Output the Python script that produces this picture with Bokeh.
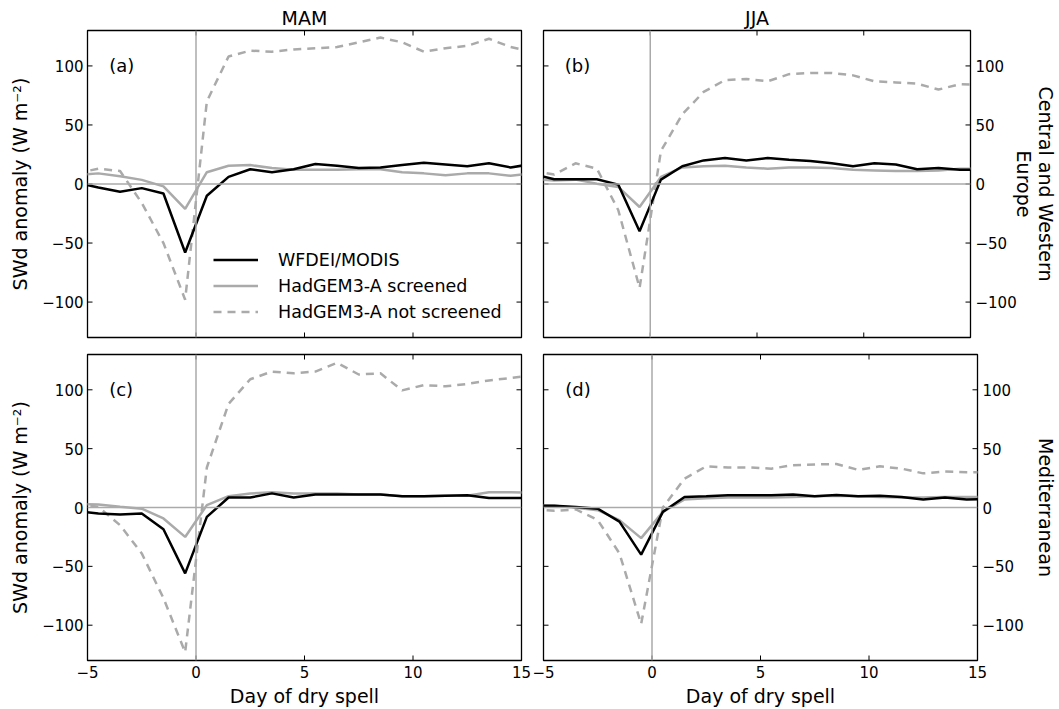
import math
from bokeh.plotting import figure
from bokeh.layouts import column, row
from bokeh.models import (Range1d, LinearAxis, FixedTicker, Span,
                          Legend, LegendItem)
from bokeh.core.properties import value
from bokeh.embed import file_html
from bokeh.resources import INLINE

# ---------------- data ----------------
days = [-5.5, -4.5, -3.5, -2.5, -1.5, -0.5, 0.5, 1.5, 2.5, 3.5, 4.5,
        5.5, 6.5, 7.5, 8.5, 9.5, 10.5, 11.5, 12.5, 13.5, 14.5, 15.5]

# (a) MAM, Central and Western Europe
obs_a = [1, -3, -6.5, -3.5, -8, -58, -10, 6, 12.5, 10, 12.5,
         17, 15.5, 13.5, 14, 16, 18, 16.5, 15, 17.5, 14, 17]
scr_a = [7.5, 9, 6.5, 3.5, -2, -21, 10, 15.5, 16, 13.5, 12,
         12, 12, 12.5, 12.5, 10, 9, 7.5, 9, 9, 7, 9]
nos_a = [9, 13, 11, -16, -50, -98, 70, 108, 113, 112, 114,
         115, 116, 120, 124, 120, 112, 115, 117, 123, 116, 112]

# (b) JJA, Central and Western Europe
obs_b = [8.5, 4, 4, 4, -0.5, -40, 3.7, 15, 20, 22, 20,
         22, 20.5, 19.5, 17.5, 15, 17.5, 16.5, 12.5, 13.5, 12, 12]
scr_b = [4, 3, 3.7, 0.3, -2.5, -19.5, 6, 14, 15, 15.5, 14,
         13, 14, 14, 13.5, 12, 11.5, 11, 11, 11.5, 13, 13]
nos_b = [11, 8, 17.5, 13, -22, -88, 28, 59, 78, 88, 89,
         87, 93, 94, 94, 92, 87, 86, 85, 80, 84.5, 84]

# (c) MAM, Mediterranean
obs_c = [-3, -5, -6, -5, -18.5, -56, -8, 8.5, 8.5, 12, 8.5,
         11, 11, 11, 11, 9.5, 9.5, 10, 10.5, 8, 8, 8]
scr_c = [3, 2.5, 0.6, -1, -9.3, -25, 2, 9.6, 11.8, 13, 11.8,
         11.8, 11.8, 11, 11, 9.6, 9.6, 10, 10, 13, 13, 12.5]
nos_c = [4, 0.5, -15, -39, -77, -123, 34, 88, 109, 115.5, 114,
         115.5, 123, 113, 114, 99.5, 104, 103, 105, 108, 110, 112.5]

# (d) JJA, Mediterranean
obs_d = [1.5, 1.4, 0.5, -1, -12, -40, -3.7, 9, 9.6, 10.4, 10.4,
         10.4, 11, 9.6, 10.7, 9.6, 10, 9, 6.8, 8.5, 6.8, 7]
scr_d = [2, 1.4, -0.3, -2.3, -10.7, -26, -3.7, 6.8, 7.9, 8.5, 8.5,
         8.5, 9, 9.6, 10, 9.6, 9, 8.5, 8.5, 9, 9, 9]
nos_d = [-1.5, -2.8, -1.7, -10.7, -39, -99, 0, 24.5, 35, 34, 34,
         33, 36, 36.5, 37, 32, 35, 33, 29, 30.5, 30, 30]

x_ticks = [-5, 0, 5, 10, 15]
x_tick_labels = ["\u22125", "0", "5", "10", "15"]
y_ticks = [-100, -50, 0, 50, 100]
y_tick_labels = ["\u2212100", "\u221250", "0", "50", "100"]

seasons = ["MAM", "JJA"]
regions = ["Central and Western\nEurope", "Mediterranean"]
panel_tags = ["(a)", "(b)", "(c)", "(d)"]
series_names = ["WFDEI/MODIS", "HadGEM3-A screened", "HadGEM3-A not screened"]
y_title = "SWd anomaly (W m\u207b\u00b2)"
x_title = "Day of dry spell"

FONT = "DejaVu Sans"
GREY = "#aaaaaa"
X_LO, X_HI = -5, 15
Y_LO, Y_HI = -130, 130


def add_axis(p, side, ticks, labels, title=None, title_standoff=0,
             line_height=1.2):
    ax = LinearAxis(ticker=FixedTicker(ticks=ticks),
                    axis_line_color=None,
                    major_tick_in=0, major_tick_out=0,
                    major_tick_line_color=None,
                    minor_tick_line_color=None,
                    major_label_text_font=FONT,
                    major_label_text_font_size="15px",
                    major_label_text_color="black",
                    major_label_standoff=5 if side in ("below", "right") else 4,
                    major_label_overrides={t: l for t, l in zip(ticks, labels)})
    if title is not None:
        ax.axis_label = title
        ax.axis_label_text_font = FONT
        ax.axis_label_text_font_size = "19px"
        ax.axis_label_text_font_style = "normal"
        ax.axis_label_text_color = "black"
        ax.axis_label_standoff = title_standoff
        ax.axis_label_text_line_height = line_height
    p.add_layout(ax, side)


def panel(obs, scr, nos, width, height, bl, br, bt, bb):
    p = figure(width=width, height=height,
               x_range=Range1d(X_LO, X_HI), y_range=Range1d(Y_LO, Y_HI),
               output_backend="svg", toolbar_location=None,
               x_axis_location=None, y_axis_location=None,
               min_border_left=bl, min_border_right=br,
               min_border_top=bt, min_border_bottom=bb,
               background_fill_color="white", border_fill_color="white")
    p.grid.grid_line_color = None
    p.outline_line_color = "black"
    p.outline_line_width = 1.3

    # inward tick marks on all four sides (outer half of each dash is clipped by the frame)
    n_x, n_y = len(x_ticks), len(y_ticks)
    p.scatter(x_ticks * 2, [Y_LO] * n_x + [Y_HI] * n_x, marker="dash",
              size=10, angle=math.pi / 2, line_color="black", line_width=1)
    p.scatter([X_LO] * n_y + [X_HI] * n_y, y_ticks * 2, marker="dash",
              size=10, line_color="black", line_width=1)

    p.add_layout(Span(location=0, dimension="width", line_color=GREY,
                      line_width=1.5))
    p.add_layout(Span(location=0, dimension="height", line_color=GREY,
                      line_width=1.5))

    r_nos = p.line(days, nos, line_color=GREY, line_width=2.5,
                   line_dash="8 6")
    r_scr = p.line(days, scr, line_color=GREY, line_width=2.5)
    r_obs = p.line(days, obs, line_color="black", line_width=2.5)
    return p, (r_obs, r_scr, r_nos)


pa, ra = panel(obs_a, scr_a, nos_a, 532, 345, 87, 11, 30, 8)
pb, rb = panel(obs_b, scr_b, nos_b, 527, 345, 11, 82, 30, 8)
pc, rc = panel(obs_c, scr_c, nos_c, 532, 364, 87, 11, 9, 48)
pd_, rd = panel(obs_d, scr_d, nos_d, 527, 364, 11, 82, 9, 48)

for p, tag in zip([pa, pb, pc, pd_], panel_tags):
    p.text(x=[-4], y=[100], text=[tag], text_font=value(FONT),
           text_font_size="18px", text_align="left", text_baseline="middle",
           text_color="black")

# axes with labels
add_axis(pa, "left", y_ticks, y_tick_labels, y_title, 8)
add_axis(pc, "left", y_ticks, y_tick_labels, y_title, 8)
add_axis(pb, "right", y_ticks, y_tick_labels, regions[0], -7, 1.0)
add_axis(pd_, "right", y_ticks, y_tick_labels, regions[1], 8)
add_axis(pc, "below", x_ticks, x_tick_labels, x_title, 4)
add_axis(pd_, "below", x_ticks, x_tick_labels, x_title, 4)

# season titles
for p, s in zip([pa, pb], seasons):
    p.title.text = s
    p.title.align = "center"
    p.title.text_font = FONT
    p.title.text_font_size = "19px"
    p.title.text_font_style = "normal"
    p.title.text_color = "black"
    p.title.standoff = 4
    p.title.offset = 0

# legend in panel (a)
legend = Legend(items=[LegendItem(label=n, renderers=[r])
                       for n, r in zip(series_names, ra)],
                location=(126, 15), border_line_color=None,
                background_fill_alpha=0, padding=0, margin=0,
                label_text_font=FONT, label_text_font_size="17.5px",
                label_text_color="black", label_standoff=20,
                glyph_width=45, glyph_height=21, label_height=21, spacing=5)
pa.add_layout(legend)

layout = column(row(pa, pb), row(pc, pd_))
open("out.html", "w").write(file_html(layout, INLINE))
